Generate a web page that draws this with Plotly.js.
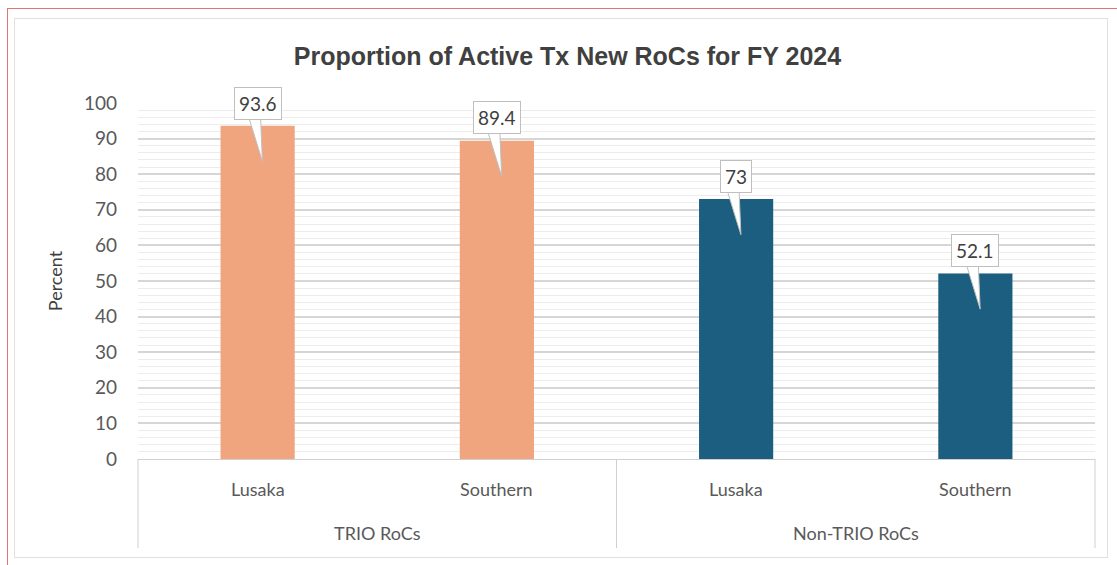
<!DOCTYPE html>
<html><head><meta charset="utf-8">
<script src="https://cdn.plot.ly/plotly-3.0.1.min.js"></script>
<style>html,body{margin:0;padding:0;background:#fff;}#chart{width:1117px;height:565px;}
#frame{position:absolute;left:7px;top:8px;width:1110px;height:557px;border-top:1px solid #e57373;border-left:1px solid #e57373;box-sizing:border-box;pointer-events:none;}
#inner{position:absolute;left:14px;top:18px;width:1094px;height:540px;border:1px solid #e0e0e0;box-sizing:border-box;pointer-events:none;}
</style></head>
<body><div id="chart"></div><div id="frame"></div><div id="inner"></div>
<script>
const groups = ["TRIO RoCs", "TRIO RoCs", "Non-TRIO RoCs", "Non-TRIO RoCs"];
const regions = ["Lusaka", "Southern", "Lusaka", "Southern"];
const values = [93.6, 89.4, 73, 52.1];
const colors = ["#F0A57E", "#F0A57E", "#1B5E80", "#1B5E80"];
const yTicks = [0,10,20,30,40,50,60,70,80,90,100];
const groupNames = ["TRIO RoCs", "Non-TRIO RoCs"];

const n = values.length;
const shapes = [];
const annotations = [];
const lblFont = {family:'Lato, sans-serif', size:18, color:'#595959'};
values.forEach((v, i) => {
  const cx = (i + 0.5) / n;
  shapes.push({type:'path', xref:'paper', yref:'y', layer:'above',
    path:`M ${cx-0.010},${v+3} L ${cx+0.005},${v-10} L ${cx+0.003},${v+3} Z`,
    fillcolor:'#ffffff', line:{color:'#bfbfbf', width:1}});
  annotations.push({xref:'paper', yref:'y', x:cx, xanchor:'center', y:v+6.4, yanchor:'middle', text:String(v), showarrow:false,
    bgcolor:'#ffffff', bordercolor:'#bfbfbf', borderwidth:1, borderpad:4,
    font:{family:'Lato, sans-serif', size:19, color:'#404040'}});
  annotations.push({xref:'paper', yref:'paper', x:cx, xanchor:'center', y:0, yanchor:'middle', yshift:-30,
    text:regions[i], showarrow:false, font:lblFont});
});
groupNames.forEach((g, j) => {
  const cnt = groups.filter(x => x === g).length;
  const start = groups.indexOf(g);
  const cx = (start + cnt / 2) / n;
  annotations.push({xref:'paper', yref:'paper', x:cx, xanchor:'center', y:0, yanchor:'middle', yshift:-74,
    text:g, showarrow:false, font:lblFont});
});
const divPositions = [0];
groupNames.forEach(g => { divPositions.push((groups.lastIndexOf(g) + 1) / n); });
divPositions.forEach(p => {
  shapes.push({type:'line', xref:'paper', yref:'paper', x0:p, x1:p, y0:0, y1:-0.25,
    line:{color:'#d0d0d0', width:1}});
});

const data = [{
  type:'bar', x:[groups, regions], y:values,
  marker:{color:colors}, width:0.31, hoverinfo:'skip'
}];
const layout = {
  width:1117, height:565,
  margin:{l:138, r:22, t:103, b:106},
  paper_bgcolor:'rgba(0,0,0,0)', plot_bgcolor:'#ffffff',
  title:{text:'Proportion of Active Tx New RoCs for FY 2024', x:0.508, xanchor:'center', y:0.9, yanchor:'middle',
    font:{family:'Liberation Sans Narrow, Arial Narrow, sans-serif', size:25, color:'#404040', weight:'bold'}},
  showlegend:false,
  xaxis:{type:'multicategory', showline:true, linecolor:'#d0d0d0', linewidth:1, showgrid:false,
    showdividers:false, showticklabels:false, ticks:''},
  yaxis:{range:[0,100], tickvals:yTicks, ticktext:yTicks.map(String), showgrid:true, gridcolor:'#d6d6d6', gridwidth:2,
    minor:{dtick:2, showgrid:true, gridcolor:'#ececec', gridwidth:1},
    zeroline:false, ticks:'', ticklen:0, ticklabelstandoff:20,
    tickfont:{family:'Lato, sans-serif', size:19, color:'#595959'},
    title:{text:'Percent', standoff:16, font:{family:'Lato, sans-serif', size:18, color:'#404040'}}},
  shapes:shapes, annotations:annotations
};
Plotly.newPlot('chart', data, layout, {displayModeBar:false, staticPlot:true});
</script></body></html>
